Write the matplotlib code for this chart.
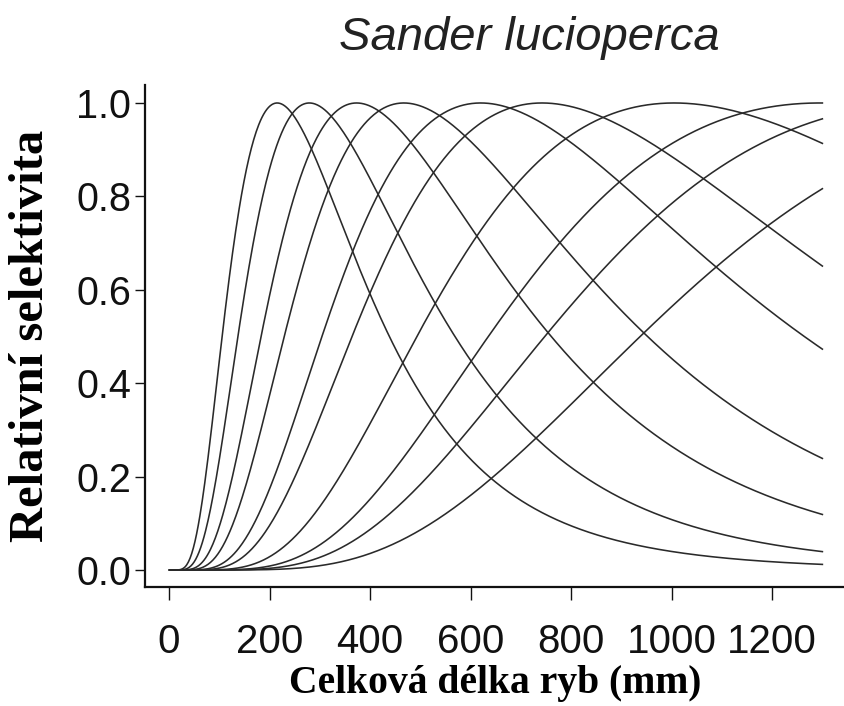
import numpy as np
import matplotlib
matplotlib.use("Agg")
import matplotlib.pyplot as plt

# Modal lengths (mm) of the relative selectivity curves
modal_length = [215, 279, 373, 467, 620, 742, 1005, 1295, 1524, 1911]
# common log-normal spread read from half-height widths
spread = 0.605
length_max = 1300

x_ticks = [0, 200, 400, 600, 800, 1000, 1200]
y_ticks = [0.0, 0.2, 0.4, 0.6, 0.8, 1.0]

fig = plt.figure(figsize=(8.45, 7.06), dpi=100)
ax = fig.add_axes([145 / 845, (706 - 587) / 706, 700 / 845, (587 - 85) / 706])

L = np.linspace(1, length_max, 800)
for m in modal_length:
    r = np.exp(-(np.log(L / m)) ** 2 / (2 * spread ** 2))
    ax.plot(L, r, color="#2a2a2a", lw=1.15)

ax.set_xlim(-48, 1345)
ax.set_ylim(-0.0364, 1.0385)
ax.spines["top"].set_visible(False)
ax.spines["right"].set_visible(False)
for s in ("left", "bottom"):
    ax.spines[s].set_linewidth(1.6)
    ax.spines[s].set_color("#111111")

ax.set_xticks(x_ticks)
ax.set_xticklabels([str(t) for t in x_ticks])
ax.set_yticks(y_ticks)
ax.set_yticklabels([f"{t:.1f}" for t in y_ticks])
ax.tick_params(axis="x", direction="out", length=9, width=1.0, pad=17,
               labelsize=29, colors="#111111")
ax.tick_params(axis="y", direction="out", length=7, width=1.0, pad=3,
               labelsize=28.5, colors="#111111")
for lab in ax.get_xticklabels() + ax.get_yticklabels():
    lab.set_family(["Liberation Sans", "DejaVu Sans"])

ax.set_xlabel("Celková délka ryb (mm)", fontsize=28.5, fontweight="bold",
              family=["Liberation Serif", "DejaVu Serif"])
ax.xaxis.label.set_va("center")
ax.xaxis.set_label_coords(0.5, (587 - 684) / 502)

ax.set_ylabel("Relativní selektivita", fontsize=35, fontweight="bold",
              family=["Liberation Serif", "DejaVu Serif"])
ax.yaxis.label.set_va("center")
ax.yaxis.set_label_coords((31 - 145) / 700, 0.5)

fig.text(529 / 845, 1 - 38 / 706, "Sander lucioperca", fontsize=34,
         style="italic", family=["Liberation Sans", "DejaVu Sans"],
         ha="center", va="center", color="#222222")

fig.savefig("out.png", dpi=100)
